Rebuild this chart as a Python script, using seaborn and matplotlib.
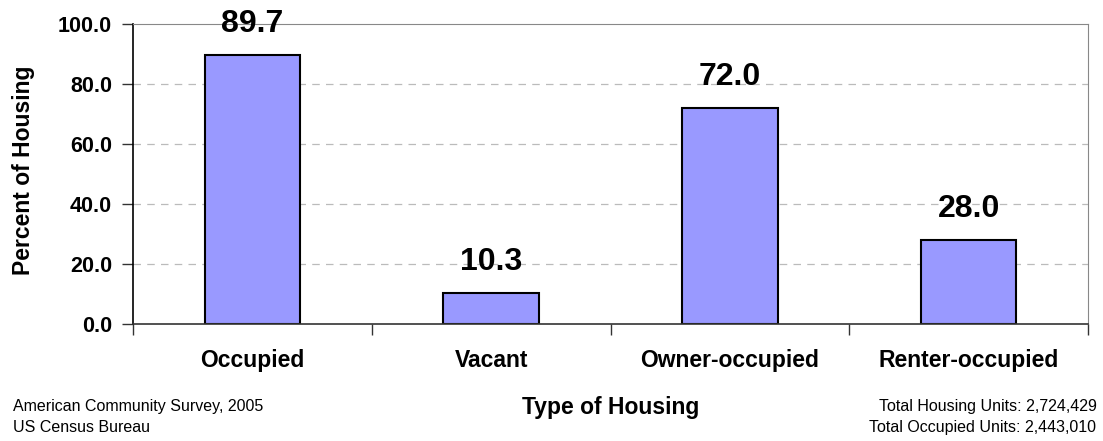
import matplotlib
matplotlib.use("Agg")
import matplotlib.pyplot as plt
import pandas as pd
import seaborn as sns

# Chart data
categories = ["Occupied", "Vacant", "Owner-occupied", "Renter-occupied"]
percents = [89.7, 10.3, 72.0, 28.0]
y_ticks = [0, 20, 40, 60, 80, 100]

df = pd.DataFrame({"type": categories, "pct": percents})

sns.set_style("white")
plt.rcParams["font.family"] = ["Liberation Sans", "DejaVu Sans"]
plt.rcParams["text.color"] = "black"
plt.rcParams["axes.labelcolor"] = "black"
plt.rcParams["xtick.labelcolor"] = "black"
plt.rcParams["ytick.labelcolor"] = "black"

fig = plt.figure(figsize=(11.03, 4.41), dpi=100)
ax = fig.add_axes([0.1206, 0.2653, 0.8658, 0.6803])

sns.barplot(data=df, x="type", y="pct", order=categories, color="#9999FF",
            saturation=1, width=0.4, edgecolor="black", linewidth=1.5, ax=ax)

ax.set_ylim(0, 100)
ax.set_xlim(-0.5, len(categories) - 0.5)
ax.set_yticks(y_ticks)
ax.set_yticklabels([f"{v:.1f}" for v in y_ticks], fontsize=15.5, fontweight="bold")
ax.set_xticks(range(len(categories)))
ax.set_xticklabels(categories, fontsize=16.5, fontweight="bold")
ax.tick_params(axis="x", which="major", length=0, pad=18)
ax.set_xticks([i - 0.5 for i in range(len(categories) + 1)], minor=True)
ax.tick_params(axis="x", which="minor", length=8, width=1, color="#333333",
               direction="out", bottom=True)
ax.tick_params(axis="y", length=8, width=1, color="#333333", direction="out",
               left=True, pad=7)

# Dashed grid
for v in y_ticks[1:-1]:
    ax.axhline(v, color="#BBBBBB", linestyle=(0, (6, 5)), linewidth=0.9, zorder=0)

for side in ["left", "bottom", "top", "right"]:
    ax.spines[side].set_visible(True)
ax.spines["left"].set_color("black")
ax.spines["left"].set_linewidth(1.2)
ax.spines["bottom"].set_color("#333333")
ax.spines["bottom"].set_linewidth(1.2)
ax.spines["top"].set_color("#888888")
ax.spines["right"].set_color("#888888")

# Value labels
for i, v in enumerate(percents):
    ax.annotate(f"{v:.1f}", (i, v), xytext=(0, 16.5), textcoords="offset points",
                ha="center", va="baseline", fontsize=23, fontweight="bold",
                annotation_clip=False)

ax.set_xlabel("")
ax.set_ylabel("")
fig.text(0.021, 0.615, "Percent of Housing", rotation=90, ha="center",
         va="center", fontsize=16.5, fontweight="bold")
fig.text(0.554, 0.077, "Type of Housing", ha="center", va="center",
         fontsize=16.5, fontweight="bold")
fig.text(0.012, 0.079, "American Community Survey, 2005", ha="left", va="center",
         fontsize=11.5)
fig.text(0.012, 0.030, "US Census Bureau", ha="left", va="center", fontsize=11.5)
fig.text(0.994, 0.079, "Total Housing Units: 2,724,429", ha="right", va="center",
         fontsize=11.5)
fig.text(0.994, 0.030, "Total Occupied Units: 2,443,010", ha="right", va="center",
         fontsize=11.5)

fig.savefig("out.png", dpi=100)
